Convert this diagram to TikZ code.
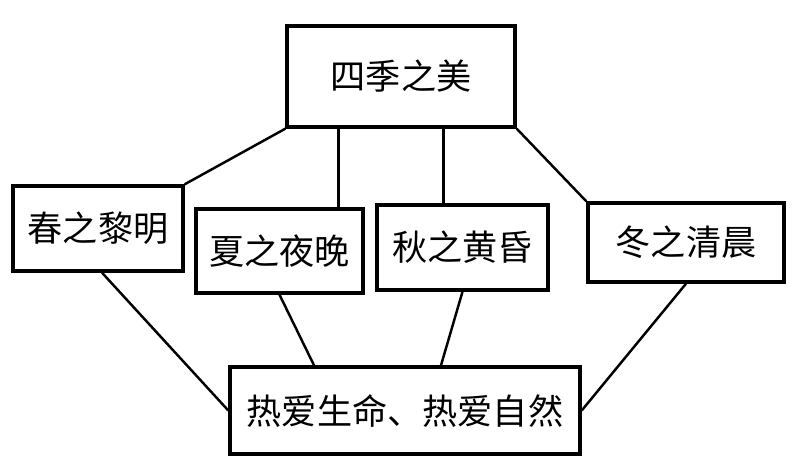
\documentclass[tikz,border=0pt]{standalone}
\usepackage{fontspec}
\newfontfamily\cjk{Noto Sans CJK SC}
\begin{document}
\begin{tikzpicture}[x=0.3mm,y=-0.3mm,
    kuang/.style 2 args={draw,line width=2.9pt,inner sep=0pt,
      minimum width=#1*0.3mm,minimum height=#2*0.3mm,
      font=\cjk\fontsize{30}{36}\selectfont},
    xian/.style={line width=2.1pt}]
  \useasboundingbox (0,0) rectangle (811,472);
  \node[kuang={228}{101}] (mei)  at (401,76.5)  {四季之美};
  \node[kuang={170}{85}]  (chun) at (98,228.5)  {春之黎明};
  \node[kuang={167}{84}]  (xia)  at (279.5,251) {夏之夜晚};
  \node[kuang={171}{85}]  (qiu)  at (462.5,247.5) {秋之黄昏};
  \node[kuang={196}{79}]  (dong) at (686,242.5) {冬之清晨};
  \node[kuang={350}{87}]  (re)   at (405,410.5) {热爱生命、热爱自然};
  \draw[xian] (mei.south west) -- (chun.north east);
  \draw[xian] (xia.north) ++(59,0) coordinate (a) -- (a |- mei.south);
  \draw[xian] (qiu.north) ++(-19,0) coordinate (b) -- (b |- mei.south);
  \draw[xian] (mei.south east) -- (dong.north west);
  \draw[xian] (chun.south) ++(4,0) -- (re.west);
  \draw[xian] (xia.south) -- ([xshift=-91*0.3mm]re.north);
  \draw[xian] (qiu.south) -- ([xshift=36*0.3mm]re.north);
  \draw[xian] (dong.south) -- (re.east);
\end{tikzpicture}
\end{document}
